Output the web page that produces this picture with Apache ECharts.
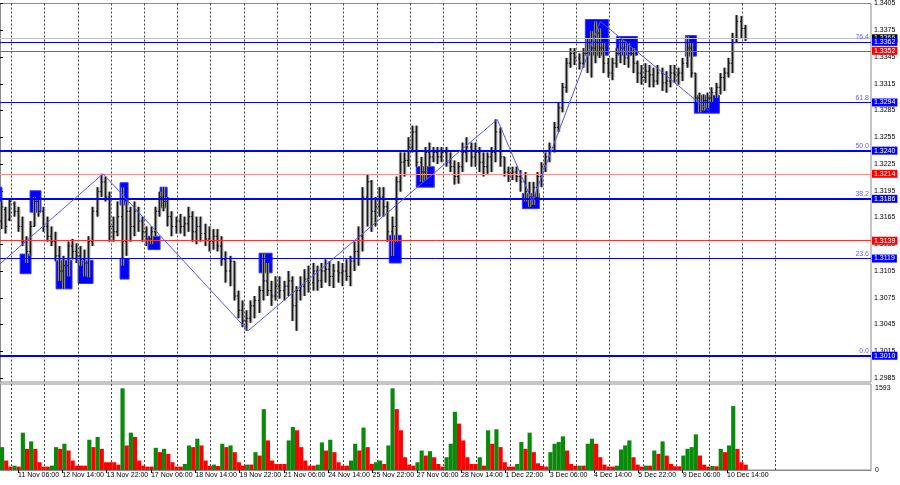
<!DOCTYPE html>
<html>
<head>
<meta charset="utf-8">
<script src="https://cdn.jsdelivr.net/npm/echarts@6/dist/echarts.min.js"></script>
<style>
  html, body { margin: 0; padding: 0; background: #fff; }
  #chart { width: 900px; height: 485px; }
</style>
</head>
<body>
<div id="chart"></div>
<script>
// 3-hour bars: [open, close, low, high]
var bars = [
  [1.3161,1.3177,1.3152,1.3183],[1.3174,1.3155,1.3147,1.3177],[1.3163,1.3183,1.3161,1.3185],[1.3181,1.3172,1.3166,1.3183],
  [1.3172,1.3155,1.3149,1.3177],[1.3155,1.3138,1.3133,1.3166],[1.3138,1.3127,1.3114,1.3144],[1.3127,1.3155,1.3122,1.3161],
  [1.3155,1.3183,1.3155,1.3188],[1.3183,1.3172,1.3166,1.3185],[1.3172,1.3155,1.3149,1.3177],[1.3155,1.3144,1.3138,1.3166],
  [1.3144,1.3138,1.3133,1.3155],[1.3138,1.3122,1.3116,1.3149],[1.3122,1.3105,1.3094,1.3133],[1.3105,1.3111,1.3085,1.3122],
  [1.3111,1.3133,1.3099,1.3138],[1.3133,1.3127,1.3118,1.3141],[1.3127,1.3122,1.3114,1.3136],[1.3122,1.3118,1.3111,1.3133],
  [1.3118,1.3114,1.3099,1.3129],[1.3114,1.3138,1.3098,1.3144],[1.3138,1.3172,1.3133,1.3177],[1.3172,1.3194,1.3166,1.3199],
  [1.3194,1.3205,1.3188,1.3214],[1.3205,1.3188,1.3183,1.3211],[1.3188,1.3155,1.3138,1.3194],[1.3155,1.3149,1.3138,1.3166],
  [1.3149,1.3166,1.3144,1.3183],[1.3166,1.3138,1.3111,1.3199],[1.3138,1.3172,1.3122,1.3183],[1.3172,1.3155,1.3138,1.3177],
  [1.3155,1.3172,1.3144,1.3183],[1.3172,1.3161,1.3149,1.3177],[1.3161,1.3149,1.3138,1.3166],[1.3149,1.3141,1.3133,1.3155],
  [1.3141,1.3149,1.3135,1.3155],[1.3149,1.3172,1.3144,1.3177],[1.3172,1.3188,1.3166,1.3194],[1.3188,1.3183,1.3172,1.3199],
  [1.3183,1.3166,1.3155,1.3188],[1.3166,1.3155,1.3144,1.3172],[1.3155,1.3161,1.3147,1.3166],[1.3161,1.3155,1.3147,1.3169],
  [1.3155,1.3158,1.3144,1.3166],[1.3158,1.3166,1.3149,1.3177],[1.3166,1.3149,1.3138,1.3172],[1.3149,1.3155,1.3135,1.3166],
  [1.3155,1.3147,1.3138,1.3166],[1.3147,1.3141,1.3133,1.3158],[1.3141,1.3138,1.3127,1.3155],[1.3138,1.3144,1.3129,1.3152],
  [1.3144,1.3133,1.3127,1.3152],[1.3133,1.3118,1.3111,1.3144],[1.3118,1.3105,1.3092,1.3127],[1.3105,1.3116,1.3088,1.3122],
  [1.3116,1.3077,1.3072,1.3116],[1.3077,1.3061,1.3052,1.3083],[1.3061,1.3049,1.3042,1.3072],[1.3049,1.3052,1.3038,1.3061],
  [1.3052,1.3066,1.3047,1.3072],[1.3066,1.3072,1.3052,1.3077],[1.3072,1.3083,1.3058,1.3088],[1.3083,1.3094,1.3072,1.3124],
  [1.3094,1.3083,1.3077,1.3114],[1.3083,1.3077,1.3066,1.3094],[1.3077,1.3088,1.3072,1.3099],[1.3088,1.3083,1.3074,1.3099],
  [1.3083,1.3088,1.3072,1.3094],[1.3088,1.3094,1.3077,1.3105],[1.3094,1.3066,1.3049,1.3099],[1.3066,1.3083,1.3038,1.3088],
  [1.3083,1.3088,1.3072,1.3099],[1.3088,1.3096,1.3077,1.3107],[1.3096,1.3092,1.3081,1.3111],[1.3092,1.3105,1.3083,1.3114],
  [1.3105,1.3094,1.3083,1.3111],[1.3094,1.3105,1.3086,1.3114],[1.3105,1.3107,1.3092,1.3118],[1.3107,1.3099,1.3088,1.3116],
  [1.3099,1.3105,1.3086,1.3113],[1.3105,1.3103,1.3092,1.3116],[1.3103,1.3105,1.3088,1.3114],[1.3105,1.3099,1.3094,1.3118],
  [1.3099,1.3116,1.3088,1.3122],[1.3116,1.3127,1.3105,1.3138],[1.3127,1.3144,1.3111,1.3155],[1.3144,1.3188,1.3127,1.3199],
  [1.3188,1.3205,1.3155,1.3213],[1.3205,1.3172,1.3149,1.3207],[1.3172,1.3177,1.3155,1.3188],[1.3177,1.3188,1.3166,1.3199],
  [1.3188,1.3177,1.3166,1.3199],[1.3177,1.3149,1.3138,1.3183],[1.3149,1.3155,1.3122,1.3166],[1.3155,1.3205,1.3138,1.3211],
  [1.3205,1.3227,1.3194,1.3238],[1.3227,1.3229,1.3211,1.3238],[1.3229,1.3244,1.3222,1.3255],[1.3244,1.3261,1.3238,1.3268],
  [1.3261,1.3227,1.3222,1.3268],[1.3227,1.3216,1.3205,1.3233],[1.3216,1.3238,1.3207,1.3244],[1.3238,1.3233,1.3222,1.3249],
  [1.3233,1.3238,1.3227,1.3244],[1.3238,1.3233,1.3225,1.3244],[1.3233,1.3238,1.3227,1.3244],[1.3238,1.3227,1.3222,1.3244],
  [1.3227,1.3222,1.3216,1.3238],[1.3222,1.3211,1.3202,1.3229],[1.3211,1.3222,1.3203,1.3227],[1.3222,1.3238,1.3216,1.3249],
  [1.3238,1.3244,1.3227,1.3255],[1.3244,1.3233,1.3222,1.3249],[1.3233,1.3238,1.3222,1.3249],[1.3238,1.3227,1.3216,1.3244],
  [1.3227,1.3222,1.3211,1.3238],[1.3222,1.3233,1.3214,1.3238],[1.3233,1.3238,1.3216,1.3244],[1.3238,1.3261,1.3227,1.3275],
  [1.3261,1.3233,1.3222,1.3266],[1.3233,1.3216,1.3211,1.3233],[1.3216,1.3214,1.3205,1.3222],[1.3214,1.3216,1.3207,1.3222],
  [1.3216,1.3211,1.3205,1.3222],[1.3211,1.3205,1.3194,1.3218],[1.3205,1.3194,1.3183,1.3216],[1.3194,1.3188,1.3177,1.3205],
  [1.3188,1.3199,1.3179,1.3205],[1.3199,1.3211,1.3188,1.3216],[1.3211,1.3222,1.3199,1.3227],[1.3222,1.3233,1.3216,1.3238],
  [1.3233,1.3244,1.3227,1.3249],[1.3244,1.3266,1.3238,1.3272],[1.3266,1.3288,1.3261,1.3294],[1.3288,1.3311,1.3283,1.3316],
  [1.3311,1.3338,1.3305,1.3344],[1.3338,1.3349,1.3333,1.3355],[1.3349,1.3344,1.3336,1.3355],[1.3344,1.3338,1.3331,1.3349],
  [1.3338,1.3349,1.3333,1.3355],[1.3349,1.3361,1.3327,1.3366],[1.3361,1.3355,1.3322,1.3374],[1.3355,1.3372,1.3338,1.3385],
  [1.3372,1.3355,1.3344,1.3377],[1.3355,1.3338,1.3327,1.3361],[1.3338,1.3327,1.3322,1.3344],[1.3327,1.3338,1.3319,1.3344],
  [1.3338,1.3349,1.3333,1.3355],[1.3349,1.3355,1.3338,1.3364],[1.3355,1.3344,1.3336,1.3363],[1.3344,1.3349,1.3333,1.3361],
  [1.3349,1.3338,1.3327,1.3355],[1.3338,1.3327,1.3316,1.3341],[1.3327,1.3322,1.3314,1.3336],[1.3322,1.3329,1.3316,1.3338],
  [1.3329,1.3325,1.3311,1.3336],[1.3325,1.3318,1.3311,1.3333],[1.3318,1.3327,1.3314,1.3336],[1.3327,1.3316,1.3307,1.3333],
  [1.3316,1.3318,1.3305,1.3329],[1.3318,1.3327,1.3311,1.3336],[1.3327,1.3325,1.3316,1.3336],[1.3325,1.3327,1.3314,1.3333],
  [1.3327,1.3338,1.3318,1.3344],[1.3338,1.3355,1.3333,1.3368],[1.3355,1.3327,1.3322,1.3361],[1.3327,1.3299,1.3294,1.3327],
  [1.3299,1.3294,1.3283,1.3305],[1.3294,1.3296,1.3285,1.3303],[1.3296,1.3299,1.3288,1.3305],[1.3299,1.3305,1.3294,1.3311],
  [1.3305,1.3311,1.3299,1.3316],[1.3311,1.3322,1.3303,1.3327],[1.3322,1.3327,1.3307,1.3333],[1.3327,1.3338,1.3322,1.3344],
  [1.3338,1.3366,1.3327,1.3372],[1.3366,1.3385,1.3361,1.3392],[1.3385,1.3377,1.3366,1.3391],[1.3377,1.3366,1.3363,1.3381]
];
// tick volume for the same 3-hour bars (height of the H1 volume bars)
var volumes = [
  446,184,66,85,66,728,413,558,413,151,
  66,66,85,446,413,512,380,184,85,85,
  85,590,446,643,413,151,151,151,105,1593,
  479,728,643,184,85,66,66,433,348,413,
  315,151,66,66,118,479,446,610,479,184,
  79,105,79,512,446,479,348,151,85,105,
  105,348,282,1187,577,184,118,118,118,577,
  840,774,446,184,85,85,105,538,380,590,
  348,151,85,85,184,512,380,827,446,118,
  151,184,118,479,1593,1187,774,249,105,85,
  151,380,282,367,249,118,66,249,512,1135,
  905,577,249,118,118,249,85,774,512,794,
  446,151,66,66,118,545,413,728,348,131,
  79,66,348,512,545,656,380,118,79,85,
  85,512,610,512,249,105,66,66,85,400,
  479,577,249,105,66,85,85,380,315,558,
  282,118,72,72,282,413,446,695,282,105,
  66,79,72,413,348,479,1246,413,151,105
];
var barHours = 3;

var priceTicks = [1.2985,1.3015,1.3045,1.3075,1.3105,1.3135,1.3165,1.3195,1.3225,1.3255,1.3285,1.3315,1.3345,1.3375,1.3405];
var volumeTicks = [0, 1593];

// time axis is in trading hours from the left edge of the chart
var dateHours = [13,45,77,109,141,173,205,237,269,301,333,365,397,429,461,493,525];
var dateLabels = ['11 Nov 06:00','12 Nov 14:00','13 Nov 22:00','17 Nov 06:00','18 Nov 14:00','19 Nov 22:00',
  '21 Nov 06:00','24 Nov 14:00','25 Nov 22:00','27 Nov 06:00','28 Nov 14:00','1 Dec 22:00','3 Dec 06:00',
  '4 Dec 14:00','5 Dec 22:00','9 Dec 06:00','10 Dec 14:00'];
var dayLines = [8,32,56,80,104,128,152,176,200,224,248,272,296,320,344,368,392,416,440,464,488,512,536,560];

// levels
var fibPrices = [1.3362, 1.3294, 1.3240, 1.3186, 1.3119, 1.3010];
var fibNames = ['76.4', '61.8', '50.0', '38.2', '23.6', '0.0'];
var redPrices = [1.3352, 1.3214, 1.3139];
var bidPrice = 1.3366;

// zigzag turning points [hour, price]
var zigzag = [[0,1.3113],[74.4,1.3214],[179.2,1.3038],[359.1,1.3275],[384.4,1.3183],[433.5,1.3385],[511.6,1.3285]];

// blue boxes [hourFrom, hourTo, priceTop, priceBottom]
var boxes = [
  [-2,1.4,1.3199,1.3177],[14.5,22.4,1.3124,1.3102],[21.7,29.6,1.3195,1.3171],[40.5,52,1.3117,1.3085],
  [56.4,67.2,1.3117,1.3091],[86.7,92.5,1.3204,1.3179],[86.7,93.2,1.3119,1.3096],[106.9,115.6,1.3144,1.3129],
  [115.6,120.7,1.3199,1.3176],[187.1,196.5,1.3125,1.3103],[281.1,289.7,1.3145,1.3114],[300.6,313.6,1.3222,1.3199],
  [377.2,389.5,1.3192,1.3175],[422.7,439.3,1.3387,1.3347],[445.1,460.3,1.3368,1.3347],[494.9,502.9,1.3369,1.3346],
  [501.4,519.5,1.3302,1.3282]
];

var font = 'Liberation Sans';
var chart = echarts.init(document.getElementById('chart'));

var barData = bars.map(function (b, i) { return [i * barHours + barHours / 2, b[0], b[1], b[2], b[3]]; });
var volData = volumes.map(function (v, i) {
  var up = i === 0 || v > volumes[i - 1] ? 1 : 0;
  return [i * barHours + barHours / 2, v, up];
});

function renderBar(params, api) {
  var h = api.value(0);
  var o = api.coord([h, api.value(1)]);
  var c = api.coord([h, api.value(2)]);
  var lo = api.coord([h, api.value(3)]);
  var hi = api.coord([h, api.value(4)]);
  var w = api.size([barHours, 0])[0];
  var x = Math.round(o[0]);
  return {
    type: 'group',
    children: [
      { type: 'rect', shape: { x: x - w * 0.5, y: hi[1], width: w * 0.8, height: lo[1] - hi[1] }, style: { fill: '#858585' } },
      { type: 'line', shape: { x1: x - 0.5, y1: hi[1], x2: x - 0.5, y2: lo[1] }, style: { stroke: '#1a1a1a', lineWidth: 1 } },
      { type: 'line', shape: { x1: x - w * 0.5, y1: o[1], x2: x, y2: o[1] }, style: { stroke: '#1a1a1a', lineWidth: 1 } },
      { type: 'line', shape: { x1: x, y1: c[1], x2: x + w * 0.3, y2: c[1] }, style: { stroke: '#1a1a1a', lineWidth: 1 } }
    ]
  };
}

function renderVolume(params, api) {
  var h = api.value(0);
  var a = api.coord([h - barHours / 2, api.value(1)]);
  var b = api.coord([h + barHours / 2, 0]);
  return {
    type: 'rect',
    shape: { x: a[0], y: a[1], width: b[0] - a[0], height: b[1] - a[1] },
    style: { fill: api.value(2) ? '#0a8a0a' : '#ff0000' }
  };
}

function renderBox(params, api) {
  var a = api.coord([api.value(0), api.value(2)]);
  var b = api.coord([api.value(1), api.value(3)]);
  var cs = params.coordSys;
  var shape = echarts.graphic.clipRectByRect(
    { x: a[0], y: a[1], width: b[0] - a[0], height: b[1] - a[1] },
    { x: cs.x, y: cs.y, width: cs.width, height: cs.height });
  return shape && { type: 'rect', shape: shape, style: { fill: '#0000ff', stroke: '#3333ff', lineWidth: 1 } };
}

function renderDayLine(params, api) {
  var cs = params.coordSys;
  var p = api.coord([api.value(0), 0]);
  var x = Math.round(p[0]) + 0.5;
  return {
    type: 'line',
    shape: { x1: x, y1: cs.y, x2: x, y2: cs.y + cs.height },
    style: { stroke: '#444', lineWidth: 1, lineDash: [2, 2] }
  };
}

// horizontal levels with their price tags on the right
var thick = { '1.324': 2, '1.3186': 2, '1.301': 2 };
var redTone = { '1.3214': '#ff8a8a' };
var hidden = { color: 'rgba(0,0,0,0)', width: 1, type: 'solid' };
function tag(p, bg) {
  return { show: true, position: 'end', formatter: p.toFixed(4), backgroundColor: bg, color: '#fff',
    padding: [1, 2, 0, 2], distance: 1, fontSize: 7, fontFamily: font };
}
var levelLines = [];
levelLines.push({ yAxis: bidPrice, lineStyle: { color: '#c0c0c0', width: 1, type: 'solid' }, label: tag(bidPrice, '#000') });
redPrices.forEach(function (p) {
  levelLines.push({ yAxis: p, lineStyle: { color: redTone[String(p)] || '#ff3030', width: 1, type: 'solid' }, label: tag(p, '#ff0000') });
});
fibPrices.forEach(function (p, i) {
  levelLines.push({ yAxis: p, lineStyle: { color: '#0000ff', width: thick[String(p)] || 1, type: 'solid' },
    label: { show: true, position: 'insideEndTop', formatter: fibNames[i], color: '#6060ff', distance: [2, 1], fontSize: 7, fontFamily: font } });
  levelLines.push({ yAxis: p, lineStyle: hidden, label: tag(p, '#0000ff') });
});

var option = {
  animation: false,
  backgroundColor: '#fff',
  textStyle: { fontFamily: font },
  grid: [
    { left: 0, right: 29, top: 0, height: 382, show: true, borderColor: '#8c8c8c', borderWidth: 1 },
    { left: 0, right: 29, top: 384, height: 86, show: true, borderColor: '#8c8c8c', borderWidth: 1 }
  ],
  xAxis: [
    { type: 'value', gridIndex: 0, min: 0, max: 629, axisLine: { show: false }, axisTick: { show: false }, axisLabel: { show: false }, splitLine: { show: false } },
    { type: 'value', gridIndex: 1, min: 0, max: 629,
      axisLine: { show: true, lineStyle: { color: '#8c8c8c' } },
      axisTick: { show: true, customValues: dateHours, length: 3, lineStyle: { color: '#000' } },
      axisLabel: { show: true, customValues: dateHours, align: 'left', margin: 2, fontSize: 7, color: '#000',
        formatter: function (v) { return dateLabels[dateHours.indexOf(v)]; } },
      splitLine: { show: false } }
  ],
  yAxis: [
    { type: 'value', gridIndex: 0, position: 'right', min: 1.298056, max: 1.3405,
      axisLine: { show: true, lineStyle: { color: '#8c8c8c' } },
      axisTick: { show: true, customValues: priceTicks, length: 3, lineStyle: { color: '#000' } },
      axisLabel: { show: true, customValues: priceTicks, margin: 3, fontSize: 7, color: '#000',
        formatter: function (v) { return v.toFixed(4); } },
      splitLine: { show: false } },
    { type: 'value', gridIndex: 1, position: 'right', min: 0, max: 1677,
      axisLine: { show: true, lineStyle: { color: '#8c8c8c' } },
      axisTick: { show: false },
      axisLabel: { show: true, customValues: volumeTicks, margin: 4, fontSize: 7, color: '#000',
        formatter: function (v) { return String(v); } },
      splitLine: { show: false } }
  ],
  series: [
    { name: 'boxes', type: 'custom', xAxisIndex: 0, yAxisIndex: 0, z: 1, silent: true,
      renderItem: renderBox, encode: { x: [0, 1], y: [2, 3] }, data: boxes },
    { name: 'days', type: 'custom', xAxisIndex: 0, yAxisIndex: 0, z: 2, silent: true,
      renderItem: renderDayLine, encode: { x: 0 }, data: dayLines.map(function (h) { return [h]; }) },
    { name: 'daysVol', type: 'custom', xAxisIndex: 1, yAxisIndex: 1, z: 2, silent: true,
      renderItem: renderDayLine, encode: { x: 0 }, data: dayLines.map(function (h) { return [h]; }) },
    { name: 'GBPUSD', type: 'custom', xAxisIndex: 0, yAxisIndex: 0, z: 3, silent: true,
      renderItem: renderBar, encode: { x: 0, y: [1, 2, 3, 4] }, data: barData },
    { name: 'Volumes', type: 'custom', xAxisIndex: 1, yAxisIndex: 1, z: 3, silent: true,
      renderItem: renderVolume, encode: { x: 0, y: 1 }, data: volData },
    { name: 'ZigZag', type: 'line', xAxisIndex: 0, yAxisIndex: 0, z: 5, silent: true,
      data: zigzag, symbol: 'none', lineStyle: { color: '#5555ff', width: 1 },
      markLine: { silent: true, symbol: ['none', 'none'], precision: 4, z: 4, animation: false, data: levelLines } }
  ]
};

chart.setOption(option);
</script>
</body>
</html>
